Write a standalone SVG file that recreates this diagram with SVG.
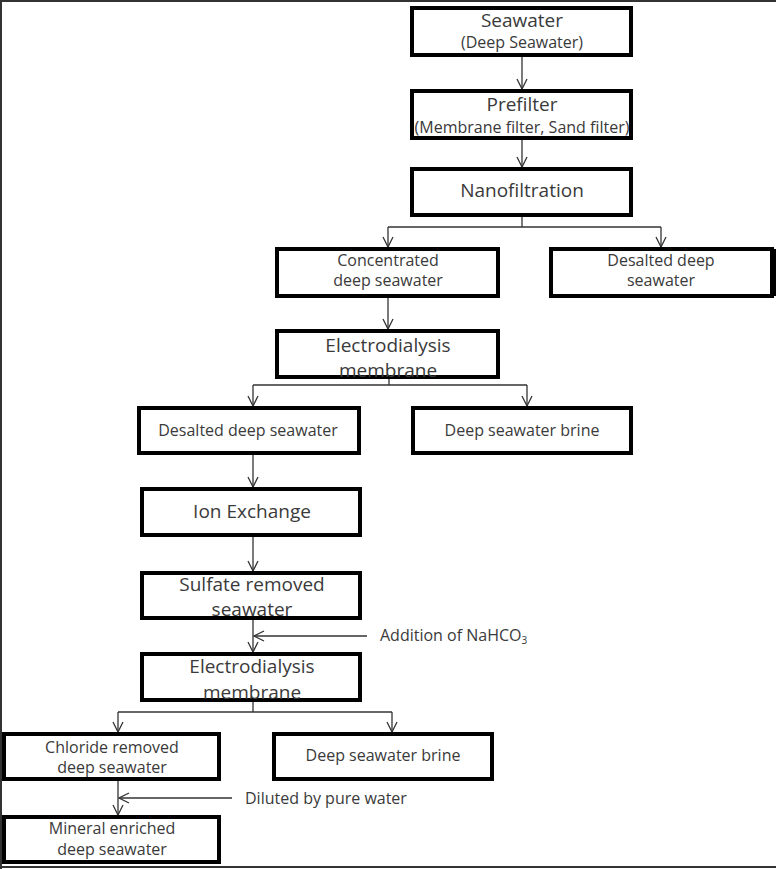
<svg xmlns="http://www.w3.org/2000/svg" width="776" height="869" viewBox="0 0 776 869">
<defs>
<marker id="arr" viewBox="0 0 12 12" refX="11" refY="6" markerWidth="12" markerHeight="12" markerUnits="userSpaceOnUse" orient="auto">
<path d="M1,1 L11,6 L1,11" fill="none" stroke="#333" stroke-width="1.3"/>
</marker>
<style>
.box{fill:#fff;stroke:#000;stroke-width:4}
.t{font-family:"Open Sans","Noto Sans",sans-serif;fill:#3a3a3a;text-anchor:middle}
.L{font-size:19px}
.S{font-size:16px}
.c{fill:none;stroke:#333;stroke-width:1.3}
.frame{stroke:#333;stroke-width:2;fill:none}
</style>
</defs>
<rect width="776" height="869" fill="#fff"/>
<g id="frame">
<line class="frame" x1="0" y1="1" x2="776" y2="1"/>
<line class="frame" x1="1" y1="0" x2="1" y2="869"/>
<line class="frame" x1="0" y1="867" x2="776" y2="867"/>
</g>
<g id="connectors">
<line class="c" x1="522" y1="56" x2="522" y2="89" marker-end="url(#arr)"/>
<line class="c" x1="522" y1="139" x2="522" y2="167" marker-end="url(#arr)"/>
<polyline class="c" points="522,216 522,227"/>
<line class="c" x1="388" y1="227" x2="661" y2="227"/>
<line class="c" x1="388" y1="227" x2="388" y2="247" marker-end="url(#arr)"/>
<line class="c" x1="661" y1="227" x2="661" y2="247" marker-end="url(#arr)"/>
<line class="c" x1="388" y1="298" x2="388" y2="329" marker-end="url(#arr)"/>
<line class="c" x1="389" y1="378" x2="389" y2="385"/>
<line class="c" x1="253" y1="385" x2="527" y2="385"/>
<line class="c" x1="253" y1="385" x2="253" y2="406" marker-end="url(#arr)"/>
<line class="c" x1="527" y1="385" x2="527" y2="406" marker-end="url(#arr)"/>
<line class="c" x1="253" y1="455" x2="253" y2="487" marker-end="url(#arr)"/>
<line class="c" x1="253" y1="536" x2="253" y2="571" marker-end="url(#arr)"/>
<line class="c" x1="253" y1="619" x2="253" y2="652" marker-end="url(#arr)"/>
<line class="c" x1="367" y1="636" x2="254" y2="636" marker-end="url(#arr)"/>
<line class="c" x1="253" y1="701" x2="253" y2="712"/>
<line class="c" x1="118" y1="712" x2="392" y2="712"/>
<line class="c" x1="118" y1="712" x2="118" y2="732" marker-end="url(#arr)"/>
<line class="c" x1="392" y1="712" x2="392" y2="732" marker-end="url(#arr)"/>
<line class="c" x1="118" y1="781" x2="118" y2="815" marker-end="url(#arr)"/>
<line class="c" x1="232" y1="798" x2="119" y2="798" marker-end="url(#arr)"/>
</g>
<g id="seawater">
<rect class="box" x="412" y="8" width="219" height="47"/>
<text class="t L" x="522" y="27">Seawater</text>
<text class="t S" x="522" y="48">(Deep Seawater)</text>
</g>
<g id="prefilter">
<rect class="box" x="412" y="91" width="219" height="47"/>
<text class="t L" x="522" y="111">Prefilter</text>
<text class="t S" x="522" y="133">(Membrane filter, Sand filter)</text>
</g>
<g id="nanofiltration">
<rect class="box" x="412" y="169" width="219" height="46"/>
<text class="t L" x="522" y="197">Nanofiltration</text>
</g>
<g id="concentrated">
<rect class="box" x="277" y="249" width="221" height="47"/>
<text class="t S" x="388" y="266">Concentrated</text>
<text class="t S" x="388" y="286">deep seawater</text>
</g>
<g id="desalted1">
<rect class="box" x="551" y="249" width="221" height="47"/>
<rect x="771" y="249" width="5" height="47" fill="#000"/>
<text class="t S" x="661" y="266">Desalted deep</text>
<text class="t S" x="661" y="286">seawater</text>
</g>
<g id="electrodialysis1">
<rect class="box" x="277" y="331" width="221" height="46"/>
<text class="t L" x="388" y="352">Electrodialysis</text>
<text class="t L" x="388" y="377">membrane</text>
</g>
<g id="desalted2">
<rect class="box" x="139" y="408" width="220" height="45"/>
<text class="t S" x="248" y="436">Desalted deep seawater</text>
</g>
<g id="brine1">
<rect class="box" x="413" y="408" width="218" height="45"/>
<text class="t S" x="522" y="436">Deep seawater brine</text>
</g>
<g id="ionexchange">
<rect class="box" x="142" y="489" width="218" height="46"/>
<text class="t L" x="252" y="518">Ion Exchange</text>
</g>
<g id="sulfate">
<rect class="box" x="142" y="573" width="218" height="45"/>
<text class="t L" x="252" y="591">Sulfate  removed</text>
<text class="t L" x="252" y="616">seawater</text>
</g>
<text class="t S" x="380" y="641" style="text-anchor:start">Addition of NaHCO<tspan font-size="10" dy="3">3</tspan></text>
<g id="electrodialysis2">
<rect class="box" x="142" y="654" width="218" height="46"/>
<text class="t L" x="252" y="673">Electrodialysis</text>
<text class="t L" x="252" y="699">membrane</text>
</g>
<g id="chloride">
<rect class="box" x="4" y="734" width="215" height="45"/>
<text class="t S" x="112" y="753">Chloride removed</text>
<text class="t S" x="112" y="773">deep seawater</text>
</g>
<g id="brine2">
<rect class="box" x="274" y="734" width="218" height="45"/>
<text class="t S" x="383" y="761">Deep seawater brine</text>
</g>
<text class="t S" x="245" y="804" style="text-anchor:start">Diluted by pure water</text>
<g id="mineral">
<rect class="box" x="4" y="817" width="215" height="45"/>
<text class="t S" x="112" y="834">Mineral enriched</text>
<text class="t S" x="112" y="855">deep seawater</text>
</g>
</svg>
